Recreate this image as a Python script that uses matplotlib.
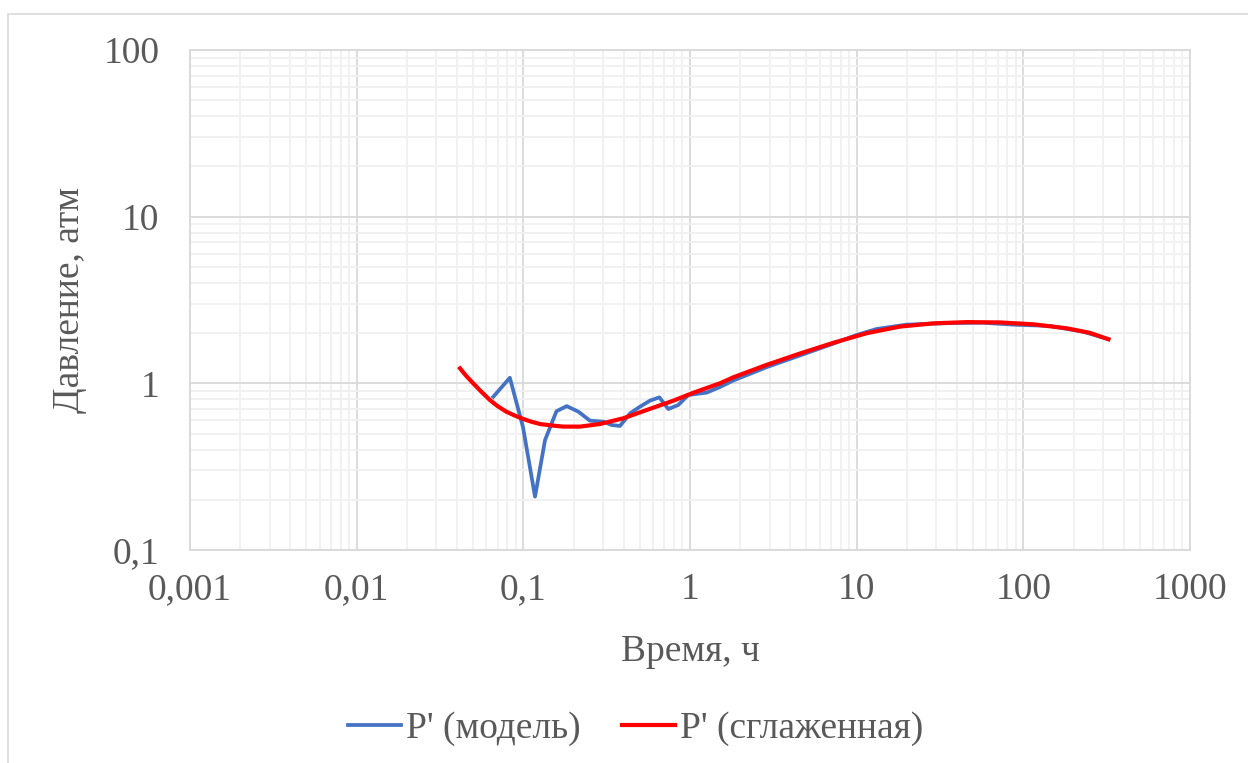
import numpy as np
from matplotlib import pyplot as plt
from matplotlib.patches import Rectangle
from matplotlib.font_manager import FontProperties
from matplotlib.ticker import FixedLocator, FixedFormatter, LogLocator, NullFormatter

# P' model derivative (hours, atm)
t_model = [0.066, 0.083, 0.0995, 0.1175, 0.135, 0.158, 0.182, 0.214, 0.251, 0.302,
           0.339, 0.38, 0.437, 0.501, 0.575, 0.655, 0.741, 0.85, 0.977, 1.26,
           1.51, 1.82, 2.88, 4.57, 7.24, 10.0, 13.2, 20.0, 36.3, 57.5,
           87.0, 144.0, 229.0, 324.0]
p_model = [0.83, 1.08, 0.547, 0.209, 0.457, 0.68, 0.73, 0.676, 0.597, 0.589,
           0.562, 0.555, 0.661, 0.724, 0.787, 0.824, 0.701, 0.741, 0.851, 0.88,
           0.95, 1.04, 1.25, 1.47, 1.73, 1.95, 2.12, 2.25, 2.3, 2.31,
           2.25, 2.21, 2.04, 1.84]

# smoothed P'
t_smooth = [0.0417, 0.045, 0.05, 0.056, 0.063, 0.07, 0.079, 0.089, 0.1, 0.112,
            0.126, 0.15, 0.174, 0.219, 0.288, 0.398, 0.55, 0.794, 1.05, 1.51,
            1.82, 2.88, 4.57, 7.24, 11.5, 18.2, 28.8, 45.7, 72.4, 115.0,
            182.0, 250.0, 324.0]
p_smooth = [1.23, 1.12, 1.0, 0.89, 0.794, 0.73, 0.676, 0.64, 0.611, 0.588,
            0.57, 0.558, 0.55, 0.55, 0.57, 0.617, 0.692, 0.787, 0.879, 1.0,
            1.087, 1.29, 1.51, 1.75, 2.0, 2.19, 2.29, 2.33, 2.32, 2.26,
            2.14, 2.01, 1.84]

x_ticks = [0.001, 0.01, 0.1, 1, 10, 100, 1000]
x_labels = ['0,001', '0,01', '0,1', '1', '10', '100', '1000']
y_ticks = [0.1, 1, 10, 100]
y_labels = ['0,1', '1', '10', '100']

serif = ['Liberation Serif', 'DejaVu Serif']
plt.rcParams['font.family'] = serif
txt = '#595959'
W, H = 1248, 763

fig = plt.figure(figsize=(W / 100, H / 100), dpi=100)
fig.patches.append(Rectangle((8 / W, -0.1), 1.2, 1 - 14 / H + 0.1, transform=fig.transFigure,
                             fill=False, edgecolor='#d9d9d9', linewidth=1.2))

ax = fig.add_axes([190 / W, 1 - 550 / H, 1000 / W, 500 / H])
ax.set_xscale('log')
ax.set_yscale('log')
ax.set_xlim(0.001, 1000)
ax.set_ylim(0.1, 100)

ax.xaxis.set_major_locator(FixedLocator(x_ticks))
ax.xaxis.set_major_formatter(FixedFormatter(x_labels))
ax.yaxis.set_major_locator(FixedLocator(y_ticks))
ax.yaxis.set_major_formatter(FixedFormatter(y_labels))
ax.xaxis.set_minor_locator(LogLocator(base=10, subs=np.arange(2, 10), numticks=20))
ax.yaxis.set_minor_locator(LogLocator(base=10, subs=np.arange(2, 10), numticks=20))
ax.xaxis.set_minor_formatter(NullFormatter())
ax.yaxis.set_minor_formatter(NullFormatter())

ax.grid(True, which='minor', color='#f0f0f0', linewidth=1.3)
ax.grid(True, which='major', color='#d9d9d9', linewidth=1.3)
ax.set_axisbelow(True)
for s in ax.spines.values():
    s.set_color('#d9d9d9')
    s.set_linewidth(1.3)
ax.tick_params(which='both', length=0, labelsize=27, labelcolor=txt)
ax.tick_params(axis='x', pad=16)
ax.tick_params(axis='y', pad=22)

ax.plot(t_model, p_model, color='#4472C4', linewidth=2.7, label="P' (модель)")
ax.plot(t_smooth, p_smooth, color='#FF0000', linewidth=3.0, label="P' (сглаженная)")

ax.set_xlabel('Время, ч', fontsize=27, color=txt, labelpad=20)
ax.set_ylabel('Давление, атм', fontsize=27, color=txt, labelpad=12)

legend_font = FontProperties(family='Liberation Serif', size=27)
leg = fig.legend(loc='center', bbox_to_anchor=(636 / W, 1 - 729 / H), ncol=2, frameon=False,
                 prop=legend_font, handlelength=1.4,
                 handletextpad=0.15, columnspacing=1.1)
for t in leg.get_texts():
    t.set_color(txt)

fig.savefig('out.png', dpi=100)
